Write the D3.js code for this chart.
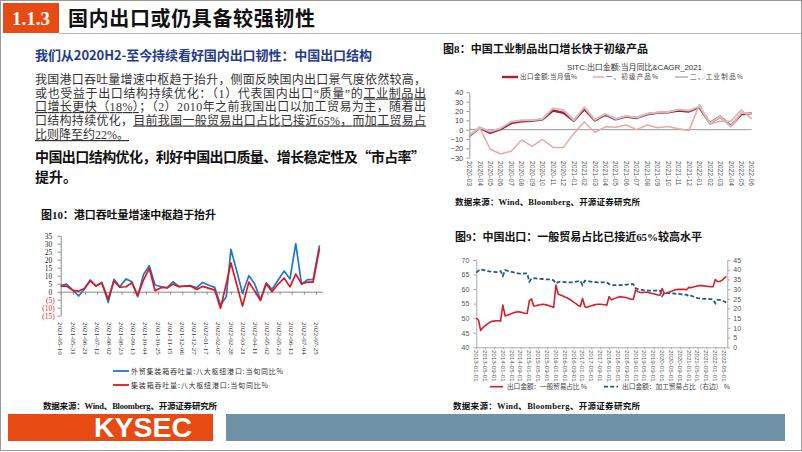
<!DOCTYPE html>
<html><head><meta charset="utf-8">
<script src="https://cdn.jsdelivr.net/npm/d3@7"></script>
<style>
html,body{margin:0;padding:0;background:#fff;}
</style></head><body>
<svg id="c" width="802" height="452"></svg>
<script>
// ---------------- DATA ----------------
// Fig10: port throughput (ten-day periods)
const portDates = ["2021-05-10","2021-05-20","2021-05-31","2021-06-10","2021-06-20","2021-06-30","2021-07-10","2021-07-20","2021-07-31","2021-08-10","2021-08-20","2021-08-31","2021-09-10","2021-09-20","2021-09-30","2021-10-10","2021-10-20","2021-10-31","2021-11-10","2021-11-20","2021-11-30","2021-12-10","2021-12-20","2021-12-31","2022-01-10","2022-01-20","2022-01-31","2022-02-10","2022-02-20","2022-02-28","2022-03-10","2022-03-20","2022-03-31","2022-04-10","2022-04-20","2022-04-30","2022-05-10","2022-05-20","2022-05-31","2022-06-10","2022-06-20","2022-06-30","2022-07-10","2022-07-20","2022-07-31"];
const portForeignYoY = [3.8,4.8,1.0,-2.7,1.7,7.3,3.5,5.8,-6.7,7.7,3.1,8.0,6.2,-3.1,10.8,16.3,4.2,3.1,2.5,6.2,3.3,3.5,3.8,2.5,5.8,4.2,2.7,-8.3,-3.1,26.5,13,-1,10,5,-5,5.5,1.5,7,13,8,30,4.5,7.5,7.5,29];
const portTotalYoY = [3.5,3.5,0.8,0.4,2.0,6.8,3.5,5.6,-4.6,6.7,2.9,3.1,5.6,-2.5,7.3,14.6,0.6,2.7,2.3,4.8,3.1,3.5,3.6,1.4,3.3,2.2,1.0,-10.4,5.0,18.0,4.5,-9,6,0.5,-5.5,5,0,4.5,8.5,3,11,5,6,6,27];
const portTickLabels = ["2021-05-10","2021-05-31","2021-06-21","2021-07-12","2021-08-02","2021-08-23","2021-09-13","2021-10-04","2021-10-25","2021-11-15","2021-12-06","2021-12-27","2022-01-17","2022-02-07","2022-02-28","2022-03-21","2022-04-11","2022-05-02","2022-05-23","2022-06-13","2022-07-04","2022-07-25"];
const portYTicks = [-15,-10,-5,0,5,10,15,20,25,30,35];
const portSeriesNames = ["外贸集装箱吞吐量:八大枢纽港口:当旬同比%","集装箱吞吐量:八大枢纽港口:当旬同比%"];

// Fig8: SITC exports
const sitcMonths = ["2020-03","2020-04","2020-05","2020-06","2020-07","2020-08","2020-09","2020-10","2020-11","2020-12","2021-01","2021-02","2021-03","2021-04","2021-05","2021-06","2021-07","2021-08","2021-09","2021-10","2021-11","2021-12","2022-01","2022-02","2022-03","2022-04","2022-05","2022-06"];
const sitcTotal = [-6.6,2.0,-3.5,0.5,7.0,9.0,9.5,11.0,20.5,18.0,9.5,22.0,10.0,16.0,11.0,14.0,12.5,16.5,18.0,18.5,20.5,19.5,24.0,7.0,14.0,4.0,16.5,17.5];
const sitcPrimary = [-6,2,-21,-26,-23,-11,-18,-10.5,-19,-19,-4,8.5,-3,3,2.5,5,0,5,2,3.5,1,-1,27,6,9,9,21,11.5];
const sitcManufactured = [-6,2.5,-2,1.5,8.5,10,10,11.5,23,21,10,24,10.5,17,11.5,14.5,13,17,18.5,19,21.5,20.5,25,7,14,3.5,18,17];
const sitcYTicks = [-30,-20,-10,0,10,20,30,40];
const sitcSeriesNames = ["出口金额:当月值%","一、初级产品%","二、工业制品%"];

// Fig9: trade mode shares (monthly from 2013-01)
const tradeStart = "2013-01-01";
const generalTradeShare = [
 50.0,49.3,45.8,46.7,47.4,48.0,48.5,48.9,49.0,49.1,49.1,49.0,
 54.5,50.8,51.0,51.3,51.6,51.9,52.1,52.2,52.1,51.9,51.7,51.6,
 56.0,56.6,54.2,54.3,54.5,54.6,54.8,54.7,54.5,54.3,54.0,53.7,
 61.4,58.3,58.0,57.7,57.3,57.0,56.6,56.1,55.5,55.0,54.4,54.0,
 56.8,54.0,53.7,54.0,54.3,54.5,54.7,54.8,54.8,54.7,54.6,54.5,
 57.4,56.3,56.6,56.9,57.2,57.4,57.3,57.2,57.0,56.8,56.5,56.5,
 59.7,59.1,58.9,58.8,58.9,58.9,58.8,58.6,58.4,58.2,58.0,57.9,
 60.2,58.5,58.6,58.9,59.2,59.5,59.8,59.9,59.9,59.9,59.9,59.8,
 60.6,60.5,60.7,60.9,61.1,61.2,61.2,61.1,61.0,60.9,60.8,60.8,
 63.3,62.6,62.6,63.0,63.7,64.4];
const processingTradeShare = [
 38.5,39.5,40.2,39.9,39.6,39.3,39.1,39.0,38.9,38.8,38.8,39.3,
 36.8,39.8,39.5,39.2,38.9,38.6,38.3,38.1,38.0,38.0,38.1,38.1,
 33.8,35.5,35.6,35.5,35.4,35.3,35.2,35.1,35.0,35.0,35.0,34.4,
 33.0,33.6,33.8,33.7,33.6,33.5,33.5,33.5,33.6,33.8,34.0,34.2,
 32.1,34.3,34.2,34.0,33.8,33.7,33.6,33.5,33.5,33.5,33.6,33.5,
 32.6,32.3,32.1,32.1,32.1,32.1,32.1,32.2,32.3,32.4,32.5,32.5,
 30.4,30.0,29.8,29.6,29.4,29.3,29.2,29.2,29.2,29.2,29.2,29.2,
 26.4,28.2,28.1,28.0,27.9,27.8,27.6,27.5,27.4,27.3,27.2,27.1,
 26.3,26.6,26.2,25.8,25.4,25.2,25.1,25.0,24.9,24.9,24.8,24.7,
 22.7,24.4,24.4,24.2,23.6,23.2];
const tradeTickLabels = ["2013-01-01","2013-05-01","2013-09-01","2014-01-01","2014-05-01","2014-09-01","2015-01-01","2015-05-01","2015-09-01","2016-01-01","2016-05-01","2016-09-01","2017-01-01","2017-05-01","2017-09-01","2018-01-01","2018-05-01","2018-09-01","2019-01-01","2019-05-01","2019-09-01","2020-01-01","2020-05-01","2020-09-01","2021-01-01","2021-05-01","2021-09-01","2022-01-01","2022-05-01"];
const tradeLeftTicks = [40,45,50,55,60,65,70];
const tradeRightTicks = [0,5,10,15,20,25,30,35,40,45];
const tradeSeriesNames = ["出口金额：一般贸易占比 %","出口金额：加工贸易占比（右边） %"];

// ---------------- DRAW ----------------
const svg = d3.select("#c");
const parse = d3.timeParse("%Y-%m-%d");
const CJK = '"Noto Sans CJK SC",sans-serif';
const SERIFCJK = '"Liberation Serif","Noto Sans CJK SC",serif';
const SANS = '"Liberation Sans","Noto Sans CJK SC",Arial,sans-serif';

function addText(parent, x, y, content, o = {}) {
  const t = parent.append("text").attr("x", x).attr("y", y)
    .attr("font-size", o.size || 12).attr("font-family", o.family || CJK)
    .attr("font-weight", o.weight || "normal").attr("fill", o.fill || "#222");
  if (o.anchor) t.attr("text-anchor", o.anchor);
  if (o.len) t.attr("textLength", o.len).attr("lengthAdjust", o.adjust || "spacing");
  if (Array.isArray(content)) {
    content.forEach(c => {
      const s = t.append("tspan").text(c.t);
      if (c.u) s.style("text-decoration", "underline");
    });
  } else t.text(content);
  return t;
}

// slide frame
svg.append("rect").attr("x",0.5).attr("y",0.5).attr("width",801).attr("height",450)
  .attr("fill","#fff").attr("stroke","#9a9a9a");

// header
svg.append("rect").attr("x",3).attr("y",3).attr("width",56).attr("height",30).attr("fill","#e84a14");
addText(svg, 31, 25, "1.1.3", {size:19, weight:"bold", fill:"#fff", family:'"Liberation Serif",serif', anchor:"middle"});
addText(svg, 68, 26, "国内出口或仍具备较强韧性", {size:20, weight:"bold", fill:"#111", len:247});
svg.append("line").attr("x1",59).attr("x2",801).attr("y1",33.5).attr("y2",33.5).attr("stroke","#b8b8b8");

// left text block
addText(svg, 35, 60, "我们从2020H2-至今持续看好国内出口韧性：中国出口结构", {size:13, weight:"bold", fill:"#1f3c8e", len:337});
const bodyLines = [
  [{t:"我国港口吞吐量增速中枢趋于抬升，侧面反映国内出口景气度依然较高，"}],
  [{t:"或也受益于出口结构持续优化：（1）代表国内出口“质量”的"},{t:"工业制品出",u:true}],
  [{t:"口增长更快（18%）",u:true},{t:"；（2）2010年之前我国出口以加工贸易为主，随着出"}],
  [{t:"口结构持续优化，"},{t:"目前我国一般贸易出口占比已接近65%，而加工贸易占",u:true}],
  [{t:"比则降至约22%。",u:true}]
];
const bodyY = [84, 97.5, 111, 124.5, 139];
bodyLines.forEach((ln,i) => addText(svg, 35, bodyY[i], ln, {size:12, family:SERIFCJK, fill:"#333", len: i<4 ? 391 : null}));
addText(svg, 35, 161.5, "中国出口结构优化，利好中国出口质量、增长稳定性及“市占率”", {size:14, weight:"bold", fill:"#111", len:390});
addText(svg, 35, 182, "提升。", {size:14, weight:"bold", fill:"#111"});

// ---------- Fig10 ----------
const g10 = svg.append("g");
addText(g10, 41, 218.5, "图10：港口吞吐量增速中枢趋于抬升", {size:11, weight:"bold", family:SERIFCJK, fill:"#111", len:175});
const x10 = d3.scaleTime().domain([parse("2021-05-10"), parse("2022-08-05")]).range([60.7, 322.4]);
const y10 = d3.scaleLinear().domain([-15, 35]).range([315.7, 235.7]);
const ya10 = g10.append("g").attr("transform","translate(60.7,0)")
  .call(d3.axisLeft(y10).tickValues(portYTicks).tickSize(3).tickSizeOuter(0)
    .tickFormat(v => v < 0 ? `(${-v})` : `${v}`));
ya10.select(".domain").attr("stroke","#8a8a8a");
ya10.selectAll(".tick line").attr("stroke","#8a8a8a");
ya10.selectAll(".tick text").attr("font-family",'"Liberation Serif",serif').attr("font-size",7.5)
  .attr("fill", v => v < 0 ? "#e0262a" : "#222").attr("x", v => v < 0 ? -6 : -8.5);
const xa10 = g10.append("g").attr("transform",`translate(0,${y10(0)})`)
  .call(d3.axisBottom(x10).tickValues(portTickLabels.map(parse)).tickSize(3).tickSizeOuter(0).tickFormat(""));
xa10.select(".domain").attr("stroke","#8a8a8a");
xa10.selectAll(".tick line").attr("stroke","#8a8a8a");
g10.append("g").selectAll("text").data(portTickLabels).join("text")
  .attr("transform", d => `translate(${x10(parse(d))},322) rotate(90)`)
  .attr("dy","0.33em").attr("font-size",7).attr("font-family",'"Liberation Serif",serif').attr("fill","#333")
  .text(d => d);
const portData = portDates.map((d,i) => ({date: parse(d), a: portForeignYoY[i], b: portTotalYoY[i]}));
const portColors = ["#1f78c8","#e3141c"];
["a","b"].forEach((k,i) => {
  g10.append("path").datum(portData)
    .attr("d", d3.line().x(d => x10(d.date)).y(d => y10(d[k])))
    .attr("fill","none").attr("stroke",portColors[i]).attr("stroke-width",1.7).attr("stroke-linejoin","round");
});
const legY10 = [371, 385];
portSeriesNames.forEach((n,i) => {
  g10.append("line").attr("x1",113).attr("x2",129).attr("y1",legY10[i]).attr("y2",legY10[i])
    .attr("stroke",portColors[i]).attr("stroke-width",1.8);
  addText(g10, 131, legY10[i]+2.5, n, {size:7, fill:"#333", len: i===0 ? 152 : 137});
});
addText(svg, 43, 408.5, "数据来源：Wind、Bloomberg、开源证券研究所", {size:8.5, weight:"bold", family:SERIFCJK, fill:"#111", len:174});

// ---------- Fig8 ----------
const g8 = svg.append("g");
addText(g8, 443, 52.5, "图8：中国工业制品出口增长快于初级产品", {size:11, weight:"bold", family:SERIFCJK, fill:"#111", len:205});
addText(g8, 567, 70, "SITC:出口金额:当月同比&CAGR_2021", {size:8, family:SANS, fill:"#333", len:135});
const x8 = d3.scalePoint().domain(sitcMonths).range([469.3, 751.7]);
const y8 = d3.scaleLinear().domain([-30, 40]).range([157.7, 92.3]);
const ya8 = g8.append("g").attr("transform","translate(469.3,0)")
  .call(d3.axisLeft(y8).tickValues(sitcYTicks).tickSize(3).tickSizeOuter(0));
ya8.select(".domain").attr("stroke","#999");
ya8.selectAll(".tick line").attr("stroke","#999");
ya8.selectAll(".tick text").attr("font-family",'"Liberation Sans",Arial,sans-serif').attr("font-size",7.5).attr("fill","#444").attr("x",-6);
g8.append("line").attr("x1",469.3).attr("x2",751.7).attr("y1",y8(0)).attr("y2",y8(0)).attr("stroke","#999");
g8.append("g").selectAll("text").data(sitcMonths).join("text")
  .attr("transform", d => `translate(${x8(d)},161) rotate(90)`)
  .attr("dy","0.33em").attr("font-size",6.8).attr("font-family",'"Liberation Sans",Arial,sans-serif').attr("fill","#555")
  .text(d => d);
const sitcSeries = [sitcTotal, sitcPrimary, sitcManufactured];
const sitcColors = ["#b4172e","#eba8a2","#cbc3c3"];
const sitcWidths = [2.4, 1.5, 2.0];
sitcSeries.forEach((s,i) => {
  g8.append("path").datum(s)
    .attr("d", d3.line().x((d,j) => x8(sitcMonths[j])).y(d => y8(d)))
    .attr("fill","none").attr("stroke",sitcColors[i]).attr("stroke-width",sitcWidths[i]).attr("stroke-linejoin","round");
});
const leg8 = [{x1:502,x2:518,tl:57},{x1:593,x2:604,tl:52},{x1:675,x2:688,tl:53}];
sitcSeriesNames.forEach((n,i) => {
  g8.append("line").attr("x1",leg8[i].x1).attr("x2",leg8[i].x2).attr("y1",77).attr("y2",77)
    .attr("stroke",sitcColors[i]).attr("stroke-width",sitcWidths[i]);
  addText(g8, leg8[i].x2+2, 79.4, n, {size:6.5, fill:"#444", len:leg8[i].tl});
});
addText(svg, 455, 205, "数据来源：Wind、Bloomberg、开源证券研究所", {size:8.5, weight:"bold", family:SERIFCJK, fill:"#111", len:185});

// ---------- Fig9 ----------
const g9 = svg.append("g");
addText(g9, 455, 240.5, "图9：中国出口：一般贸易占比已接近65%较高水平", {size:11, weight:"bold", family:SERIFCJK, fill:"#111", len:247});
const tradeMonths = d3.timeMonth.range(parse(tradeStart), d3.timeMonth.offset(parse(tradeStart), generalTradeShare.length));
const x9 = d3.scaleTime().domain([parse("2013-01-01"), parse("2022-06-01")]).range([476.3, 726.3]);
const yL = d3.scaleLinear().domain([40, 70]).range([347.3, 260]);
const yR = d3.scaleLinear().domain([0, 45]).range([347.3, 260]);
const yaL = g9.append("g").attr("transform","translate(476.3,0)")
  .call(d3.axisLeft(yL).tickValues(tradeLeftTicks).tickSize(3).tickSizeOuter(0));
const yaR = g9.append("g").attr("transform","translate(727.3,0)")
  .call(d3.axisRight(yR).tickValues(tradeRightTicks).tickSize(3).tickSizeOuter(0));
[yaL, yaR].forEach(a => {
  a.select(".domain").attr("stroke","#aaa");
  a.selectAll(".tick line").attr("stroke","#aaa");
  a.selectAll(".tick text").attr("font-family",'"Liberation Sans",Arial,sans-serif').attr("font-size",7).attr("fill","#555");
});
yaL.selectAll(".tick text").attr("x",-7);
yaR.selectAll(".tick text").attr("x",6);
const xa9 = g9.append("g").attr("transform","translate(0,347.3)")
  .call(d3.axisBottom(x9).tickValues(tradeTickLabels.map(parse)).tickSize(2).tickSizeOuter(0).tickFormat(""));
xa9.select(".domain").attr("stroke","#aaa").attr("d","M476.3,0.5H727.3");
xa9.selectAll(".tick line").attr("stroke","#aaa");
g9.append("g").selectAll("text").data(tradeTickLabels).join("text")
  .attr("transform", d => `translate(${x9(parse(d))},350) rotate(90)`)
  .attr("dy","0.33em").attr("font-size",6.2).attr("font-family",'"Liberation Sans",Arial,sans-serif').attr("fill","#555")
  .text(d => d);
g9.append("path").datum(processingTradeShare)
  .attr("d", d3.line().x((d,i) => x9(tradeMonths[i])).y(d => yR(d)))
  .attr("fill","none").attr("stroke","#1f5a8a").attr("stroke-width",1.8).attr("stroke-dasharray","4,2.2");
g9.append("path").datum(generalTradeShare)
  .attr("d", d3.line().x((d,i) => x9(tradeMonths[i])).y(d => yL(d)))
  .attr("fill","none").attr("stroke","#d4202c").attr("stroke-width",1.6).attr("stroke-linejoin","round");
g9.append("line").attr("x1",490).attr("x2",503).attr("y1",386.7).attr("y2",386.7).attr("stroke","#d4202c").attr("stroke-width",1.6);
addText(g9, 507, 389, tradeSeriesNames[0], {size:6.8, fill:"#444", len:80});
g9.append("line").attr("x1",604).attr("x2",618).attr("y1",386.7).attr("y2",386.7).attr("stroke","#1f5a8a").attr("stroke-width",1.8).attr("stroke-dasharray","4,2.2");
addText(g9, 622, 389, tradeSeriesNames[1], {size:6.8, fill:"#444", len:108});
addText(svg, 453, 408.5, "数据来源：Wind、Bloomberg、开源证券研究所", {size:8.5, weight:"bold", family:SERIFCJK, fill:"#111", len:187});

// footer
svg.append("rect").attr("x",8).attr("y",414).attr("width",205).attr("height",27).attr("fill","#e84a14");
addText(svg, 143, 437, "KYSEC", {size:27, weight:"bold", family:'"Liberation Sans",Arial,sans-serif', fill:"#fff", anchor:"middle", len:98, adjust:"spacingAndGlyphs"});
svg.append("rect").attr("x",226).attr("y",414).attr("width",559).attr("height",27).attr("fill","#6f92a6");
</script>
</body></html>
